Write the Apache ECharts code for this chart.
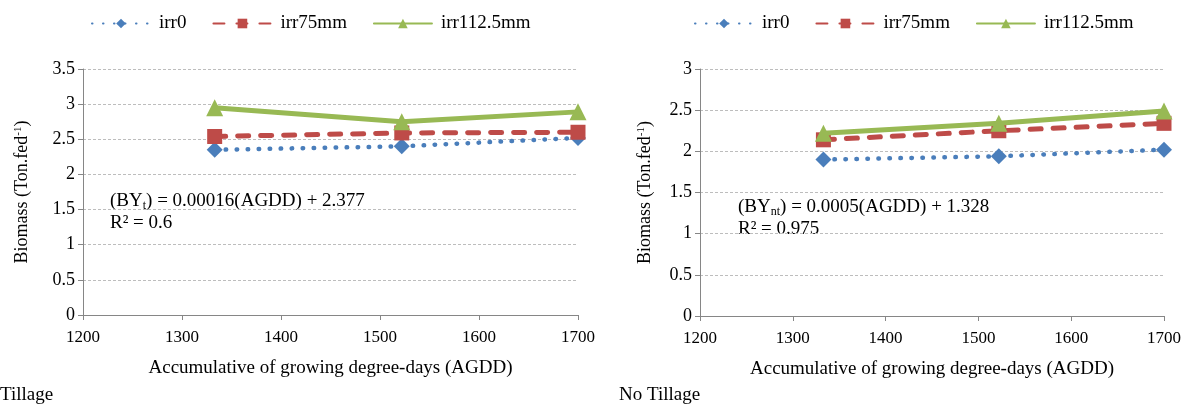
<!DOCTYPE html>
<html><head><meta charset="utf-8">
<script src="https://cdn.jsdelivr.net/npm/echarts@6/dist/echarts.min.js"></script>
<style>html,body{margin:0;padding:0;background:#fff}#c{width:1184px;height:406px}</style>
</head><body><div id="c"></div>
<script>
const agdd = [1333, 1522, 1700];
const seriesNames = ['irr0', 'irr75mm', 'irr112.5mm'];
const tillIrr0 = [2.35, 2.40, 2.52];
const tillIrr75 = [2.54, 2.59, 2.60];
const tillIrr112 = [2.95, 2.75, 2.89];
const noTillIrr0 = [1.90, 1.94, 2.02];
const noTillIrr75 = [2.14, 2.25, 2.34];
const noTillIrr112 = [2.22, 2.34, 2.49];
const xTitle = 'Accumulative of growing degree-days (AGDD)';
const yTitle = 'Biomass (Ton.fed{sup|-1})';
const panelLabels = ['Tillage', 'No Tillage'];
const eqTill = ['(BY{sub|t}) = 0.00016(AGDD) + 2.377', 'R² = 0.6'];
const eqNoTill = ['(BY{sub|nt}) = 0.0005(AGDD) + 1.328', 'R² = 0.975'];

const FONT = '"Liberation Serif", "Times New Roman", serif';
const colors = ['#4a7ebb', '#be4b48', '#98b954'];
const zip = (ys) => agdd.map((x, i) => [x, ys[i]]);

function mkSeries(name, data, idx, gi) {
  const styles = [
    {type: [0.5, 10.5], width: 4.5, cap: 'round'},
    {type: [11, 12], width: 5, cap: 'round'},
    {type: 'solid', width: 5, cap: 'round'}
  ];
  const symbols = ['diamond', 'rect', 'triangle'];
  const sizes = [16, 15, 17];
  return {
    name, type: 'line', xAxisIndex: gi, yAxisIndex: gi, data: zip(data),
    symbol: symbols[idx], symbolSize: sizes[idx], showSymbol: true,
    color: colors[idx], lineStyle: Object.assign({color: colors[idx]}, styles[idx]),
    itemStyle: {color: colors[idx]}, z: 2 + idx, animation: false
  };
}

function xAxis(gi) {
  return {
    type: 'value', gridIndex: gi, min: 1200, max: 1700, interval: 100,
    name: xTitle, nameLocation: 'middle', nameGap: 44,
    nameTextStyle: {fontFamily: FONT, fontSize: 19, color: '#000'},
    axisLine: {show: true, lineStyle: {color: '#868686', width: 1}},
    axisTick: {show: true, inside: false, length: 5, lineStyle: {color: '#868686'}},
    axisLabel: {fontFamily: FONT, fontSize: 17, color: '#000', margin: 14, formatter: (v) => String(v)},
    splitLine: {show: false}
  };
}
function yAxis(gi, max, gap) {
  return {
    type: 'value', gridIndex: gi, min: 0, max: max, interval: 0.5,
    name: yTitle, nameLocation: 'middle', nameGap: gap,
    nameTextStyle: {fontFamily: FONT, fontSize: 18, color: '#000',
      rich: {sup: {fontFamily: FONT, fontSize: 11, color: '#000', verticalAlign: 'top', lineHeight: 12}}},
    axisLine: {show: true, lineStyle: {color: '#868686', width: 1}},
    axisTick: {show: true, inside: false, length: 5, lineStyle: {color: '#868686'}},
    axisLabel: {fontFamily: FONT, fontSize: 18, color: '#000', margin: 8},
    splitLine: {show: true, lineStyle: {color: '#bdbdbd', type: [3, 2], width: 1}}
  };
}
function legend(left) {
  return {
    left: left, top: 9, data: seriesNames, itemWidth: 58, itemHeight: 12, itemGap: 26,
    textStyle: {fontFamily: FONT, fontSize: 19, color: '#000', padding: [0, 0, 0, 4]},
    selectedMode: false
  };
}
function eqText(x, y, lines) {
  return {
    type: 'text', left: x, top: y, silent: true,
    style: {
      text: lines.join('\n'), fontFamily: FONT, fontSize: 19, fill: '#000', lineHeight: 22,
      rich: {sub: {fontFamily: FONT, fontSize: 12, fill: '#000', verticalAlign: 'bottom', lineHeight: 18}}
    }
  };
}

const chart = echarts.init(document.getElementById('c'), null, {renderer: 'canvas'});
chart.setOption({
  backgroundColor: '#fff',
  animation: false,
  legend: [legend(86), legend(689)],
  grid: [
    {left: 83, right: 606, top: 69, bottom: 91},
    {left: 700, right: 19, top: 69, bottom: 90}
  ],
  xAxis: [xAxis(0), xAxis(1)],
  yAxis: [yAxis(0, 3.5, 52), yAxis(1, 3, 46)],
  series: [
    mkSeries(seriesNames[0], tillIrr0, 0, 0),
    mkSeries(seriesNames[1], tillIrr75, 1, 0),
    mkSeries(seriesNames[2], tillIrr112, 2, 0),
    mkSeries(seriesNames[0], noTillIrr0, 0, 1),
    mkSeries(seriesNames[1], noTillIrr75, 1, 1),
    mkSeries(seriesNames[2], noTillIrr112, 2, 1)
  ],
  graphic: [
    eqText(110, 190, eqTill),
    eqText(738, 196, eqNoTill),
    {type: 'text', left: 0, top: 386, style: {text: panelLabels[0], fontFamily: FONT, fontSize: 19, fill: '#000'}},
    {type: 'text', left: 619, top: 386, style: {text: panelLabels[1], fontFamily: FONT, fontSize: 19, fill: '#000'}}
  ]
});
</script></body></html>
